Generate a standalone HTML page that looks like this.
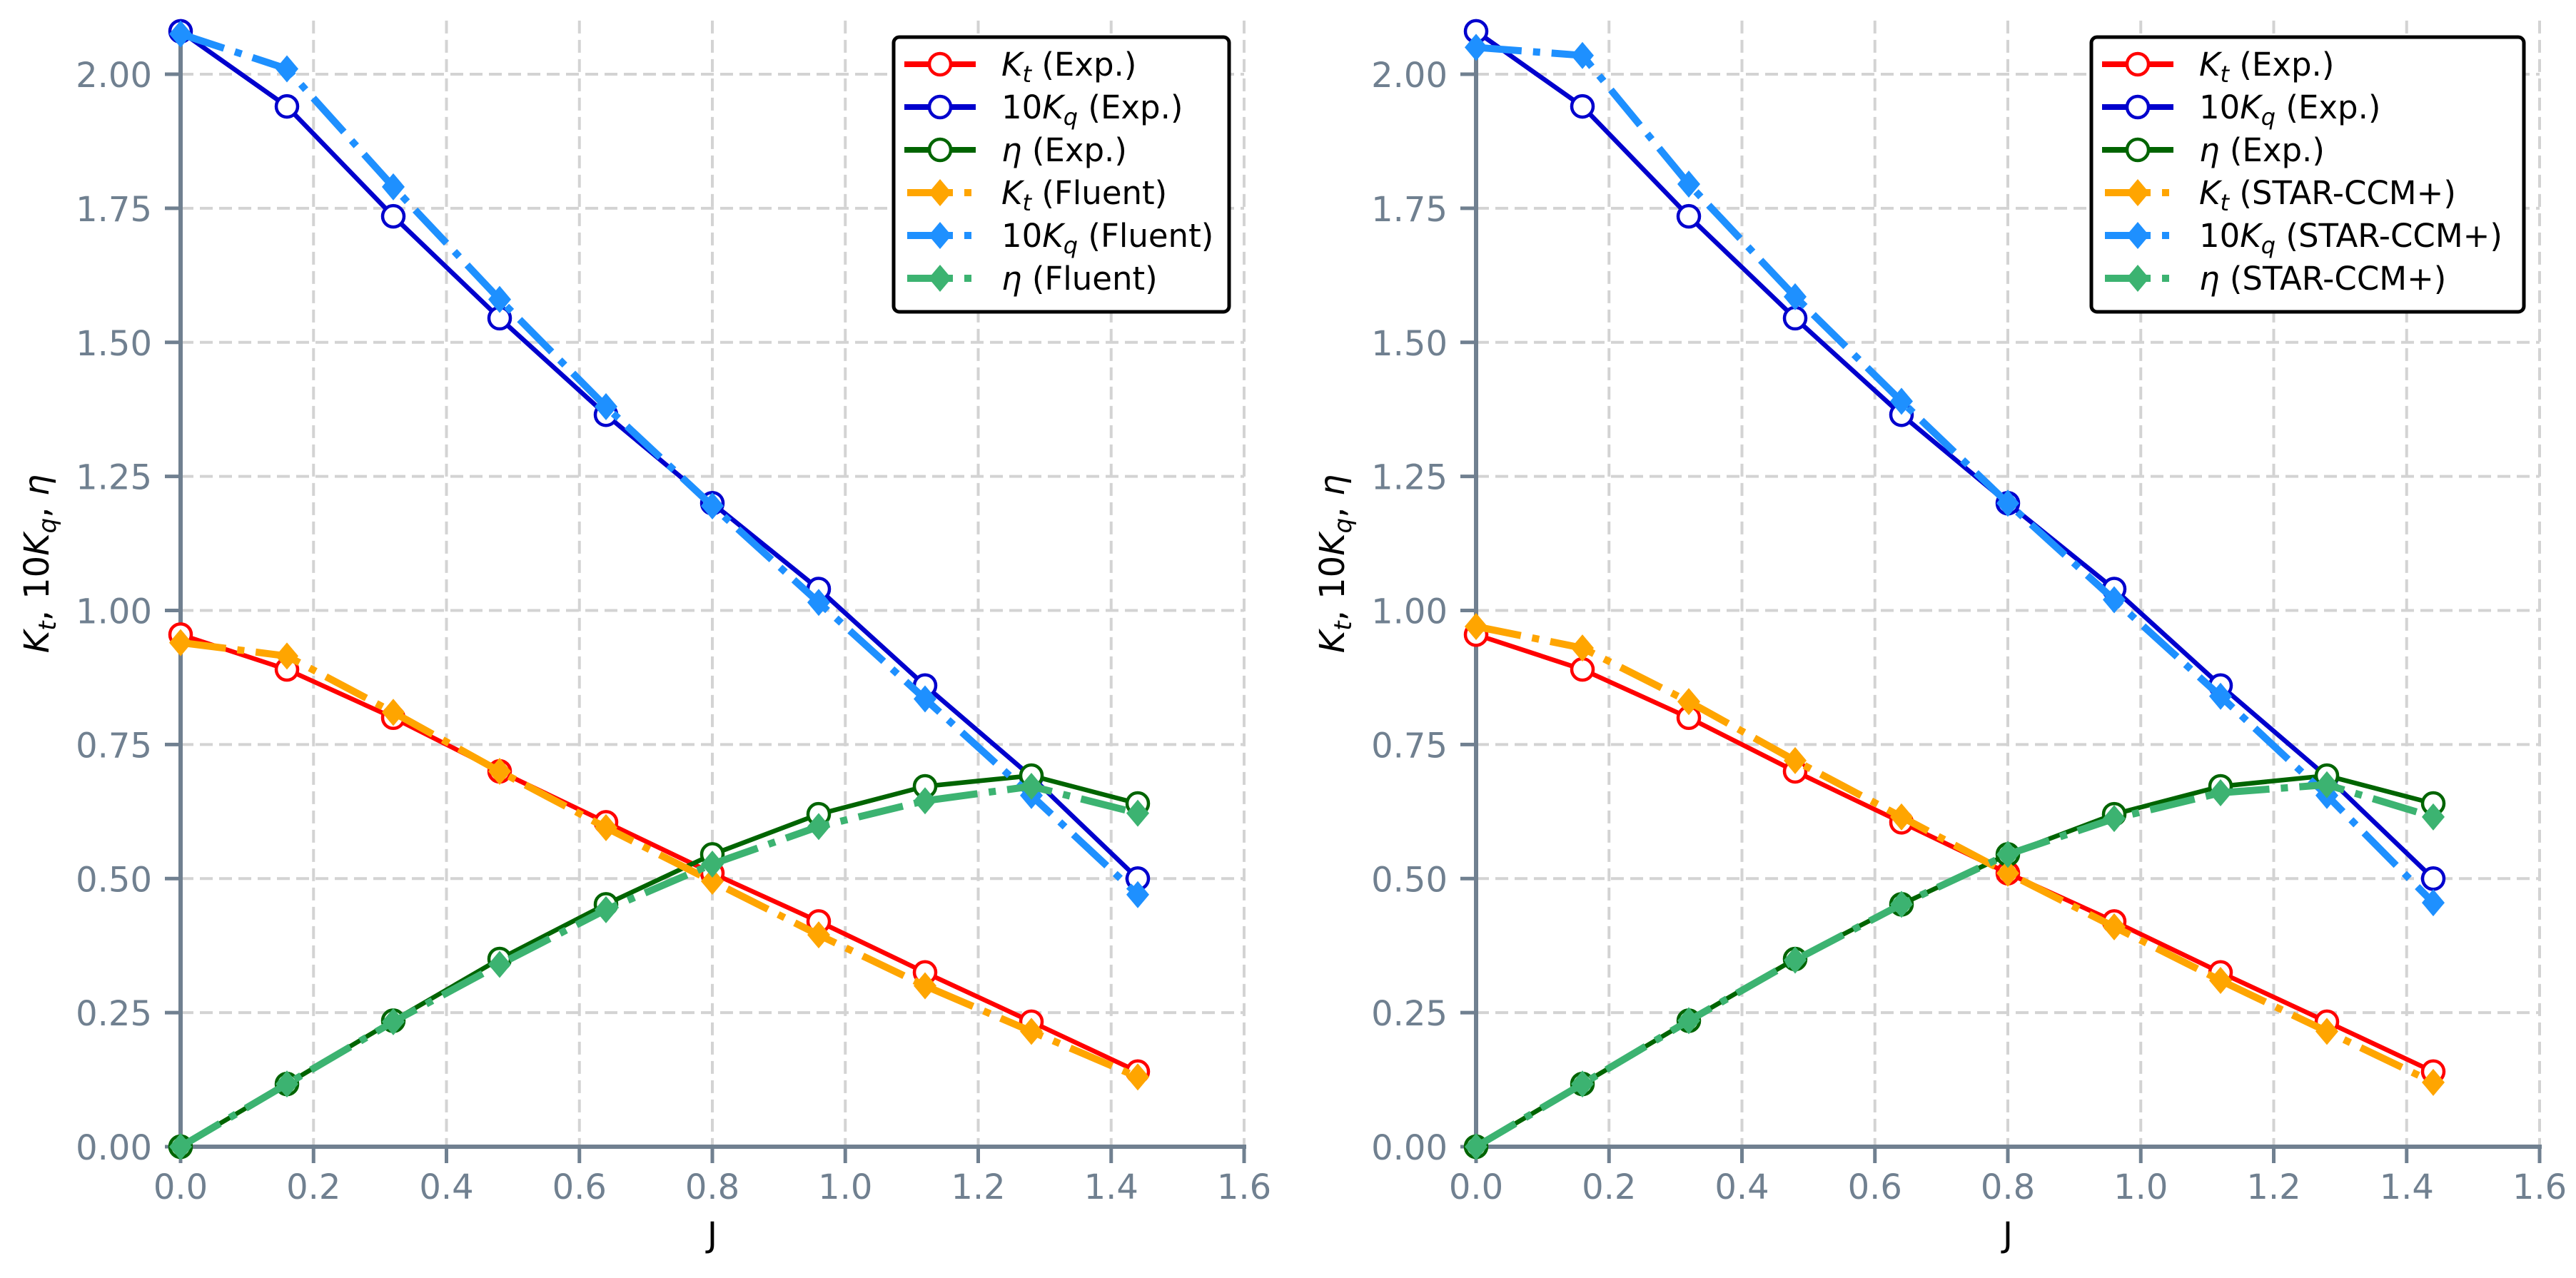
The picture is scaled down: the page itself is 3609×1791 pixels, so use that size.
<!DOCTYPE html>
<html><head><meta charset="utf-8"><style>
html,body{margin:0;padding:0;background:#fff}
svg{display:block}
text{font-family:"DejaVu Sans","Liberation Sans",sans-serif}
</style></head><body>
<svg id="chart" width="3609" height="1791" viewBox="0 0 3609 1791" xmlns="http://www.w3.org/2000/svg"></svg>
<script>
const J = [0, 0.16, 0.32, 0.48, 0.64, 0.80, 0.96, 1.12, 1.28, 1.44];
const expKt = [0.955, 0.89, 0.80, 0.70, 0.605, 0.51, 0.42, 0.325, 0.233, 0.14];
const expKq10 = [2.08, 1.94, 1.735, 1.545, 1.365, 1.20, 1.04, 0.86, 0.69, 0.50];
const expEta = [0, 0.117, 0.235, 0.35, 0.452, 0.545, 0.62, 0.672, 0.692, 0.64];
const fluentKt = [0.94, 0.915, 0.81, 0.70, 0.595, 0.495, 0.395, 0.30, 0.215, 0.13];
const fluentKq10 = [2.075, 2.01, 1.79, 1.58, 1.38, 1.195, 1.015, 0.835, 0.655, 0.47];
const fluentEta = [0, 0.117, 0.233, 0.34, 0.442, 0.527, 0.597, 0.645, 0.672, 0.622];
const starKt = [0.97, 0.93, 0.83, 0.72, 0.615, 0.51, 0.41, 0.31, 0.215, 0.12];
const starKq10 = [2.05, 2.035, 1.795, 1.585, 1.39, 1.20, 1.02, 0.84, 0.655, 0.455];
const starEta = [0, 0.117, 0.235, 0.348, 0.452, 0.545, 0.612, 0.66, 0.675, 0.615];
const xTicks = [0, 0.2, 0.4, 0.6, 0.8, 1.0, 1.2, 1.4, 1.6];
const xTickLabels = ["0.0","0.2","0.4","0.6","0.8","1.0","1.2","1.4","1.6"];
const yTicks = [0, 0.25, 0.5, 0.75, 1.0, 1.25, 1.5, 1.75, 2.0];
const yTickLabels = ["0.00","0.25","0.50","0.75","1.00","1.25","1.50","1.75","2.00"];

const NS = "http://www.w3.org/2000/svg";
const svg = document.getElementById("chart");
function mk(tag, attrs, parent) {
  const e = document.createElementNS(NS, tag);
  for (const k in attrs) e.setAttribute(k, attrs[k]);
  (parent || svg).appendChild(e);
  return e;
}
const SPINE = "#708090";

function panel(x0px, legendLeft, legendRight, simName, simKt, simKq, simEta, pname) {
  const g = mk("g", {});
  
  
  const xs = v => x0px + v / 1.6 * 1490;
  const ys = v => 1607 - v * 751.5;
  const top = ys(2.1);
  xTicks.forEach((t, i) => {
    const l = mk("line", {x1: xs(t), x2: xs(t), y1: top, y2: 1607, stroke: "#d3d3d3", "stroke-width": 4, "stroke-dasharray": "18 9"}, g);
    
    
  });
  yTicks.forEach((t, i) => {
    const l = mk("line", {x1: x0px, x2: xs(1.6), y1: ys(t), y2: ys(t), stroke: "#d3d3d3", "stroke-width": 4, "stroke-dasharray": "18 9"}, g);
    
    
  });
  const sl = mk("line", {x1: x0px, x2: x0px, y1: top, y2: 1610, stroke: SPINE, "stroke-width": 6}, g);
  
  
  const sb = mk("line", {x1: x0px - 3, x2: xs(1.6) + 3, y1: 1607, y2: 1607, stroke: SPINE, "stroke-width": 6}, g);
  
  
  xTicks.forEach((t, i) => {
    mk("line", {x1: xs(t), x2: xs(t), y1: 1607, y2: 1630, stroke: SPINE, "stroke-width": 5}, g);
    const tx = mk("text", {x: xs(t), y: 1680, "text-anchor": "middle", "font-size": 48, fill: SPINE}, g);
    tx.textContent = xTickLabels[i];
    
    
  });
  yTicks.forEach((t, i) => {
    mk("line", {x1: x0px - 22, x2: x0px, y1: ys(t), y2: ys(t), stroke: SPINE, "stroke-width": 5}, g);
    const tx = mk("text", {x: x0px - 40, y: ys(t) + 18, "text-anchor": "end", "font-size": 48, fill: SPINE}, g);
    tx.textContent = yTickLabels[i];
    
    
  });
  const xl = mk("text", {x: xs(0.8), y: 1747, "text-anchor": "middle", "font-size": 48, fill: "#000"}, g);
  xl.textContent = "J";
  
  
  const yl = mk("text", {x: 0, y: 0, "text-anchor": "middle", "font-size": 48, fill: "#000", transform: `translate(${x0px - 185},790) rotate(-90)`}, g);
  yl.innerHTML = '<tspan font-style="italic">K</tspan><tspan font-style="italic" font-size="34" dy="10">t</tspan><tspan dy="-10">, 10</tspan><tspan font-style="italic">K</tspan><tspan font-style="italic" font-size="34" dy="10">q</tspan><tspan dy="-10">, </tspan><tspan font-style="italic">η</tspan>';
  
  

  const series = [
    {d: expKt, c: "#ff0000", exp: true, name: "kt-exp"},
    {d: expKq10, c: "#0000cd", exp: true, name: "kq-exp"},
    {d: expEta, c: "#006400", exp: true, name: "eta-exp"},
    {d: simKt, c: "#ffa500", exp: false, name: "kt-sim"},
    {d: simKq, c: "#1e90ff", exp: false, name: "kq-sim"},
    {d: simEta, c: "#3cb371", exp: false, name: "eta-sim"}
  ];
  series.forEach(s => {
    const pts = J.map((j, i) => xs(j) + "," + ys(s.d[i])).join(" ");
    const attrs = {points: pts, fill: "none", stroke: s.c, "stroke-linejoin": "round"};
    if (s.exp) { attrs["stroke-width"] = 6.5; }
    else { attrs["stroke-width"] = 10; attrs["stroke-dasharray"] = "64 16 10 16"; }
    const pl = mk("polyline", attrs, g);
    
    
    J.forEach((j, i) => {
      const cx = xs(j), cy = ys(s.d[i]);
      let m;
      if (s.exp) m = mk("circle", {cx: cx, cy: cy, r: 15, fill: "#fff", stroke: s.c, "stroke-width": 4.5}, g);
      else m = mk("polygon", {points: `${cx},${cy-19} ${cx+16},${cy} ${cx},${cy+19} ${cx-16},${cy}`, fill: s.c}, g);
      
      
    });
  });

  const lg = mk("g", {}, g);
  
  
  mk("rect", {x: legendLeft, y: 52, width: legendRight - legendLeft, height: 385, rx: 8, fill: "#fff", stroke: "#000", "stroke-width": 5}, lg);
  const labels = [
    '<tspan font-style="italic">K</tspan><tspan font-style="italic" font-size="32" dy="9">t</tspan><tspan dy="-9"> (Exp.)</tspan>',
    '<tspan>10</tspan><tspan font-style="italic">K</tspan><tspan font-style="italic" font-size="32" dy="9">q</tspan><tspan dy="-9"> (Exp.)</tspan>',
    '<tspan font-style="italic">η</tspan><tspan> (Exp.)</tspan>',
    '<tspan font-style="italic">K</tspan><tspan font-style="italic" font-size="32" dy="9">t</tspan><tspan dy="-9"> (' + simName + ')</tspan>',
    '<tspan>10</tspan><tspan font-style="italic">K</tspan><tspan font-style="italic" font-size="32" dy="9">q</tspan><tspan dy="-9"> (' + simName + ')</tspan>',
    '<tspan font-style="italic">η</tspan><tspan> (' + simName + ')</tspan>'
  ];
  series.forEach((s, i) => {
    const e = mk("g", {}, lg);
    
    
    const cy = 90 + 60 * i;
    const hx = legendLeft + 15;
    if (s.exp) {
      mk("line", {x1: hx, x2: hx + 100, y1: cy, y2: cy, stroke: s.c, "stroke-width": 8}, e);
      mk("circle", {cx: hx + 50, cy: cy, r: 15, fill: "#fff", stroke: s.c, "stroke-width": 4.5}, e);
    } else {
      mk("line", {x1: hx + 4, x2: hx + 104, y1: cy, y2: cy, stroke: s.c, "stroke-width": 10, "stroke-dasharray": "64 16 10 16"}, e);
      mk("polygon", {points: `${hx+50},${cy-19} ${hx+66},${cy} ${hx+50},${cy+19} ${hx+34},${cy}`, fill: s.c}, e);
    }
    const t = mk("text", {x: hx + 136, y: cy + 16, "font-size": 45, fill: "#000"}, e);
    t.innerHTML = labels[i];
  });
}
panel(253, 1252, 1722, "Fluent", fluentKt, fluentKq10, fluentEta, "fluent-panel");
panel(2068, 2930, 3536, "STAR-CCM+", starKt, starKq10, starEta, "star-ccm-panel");
</script>
</body></html>
